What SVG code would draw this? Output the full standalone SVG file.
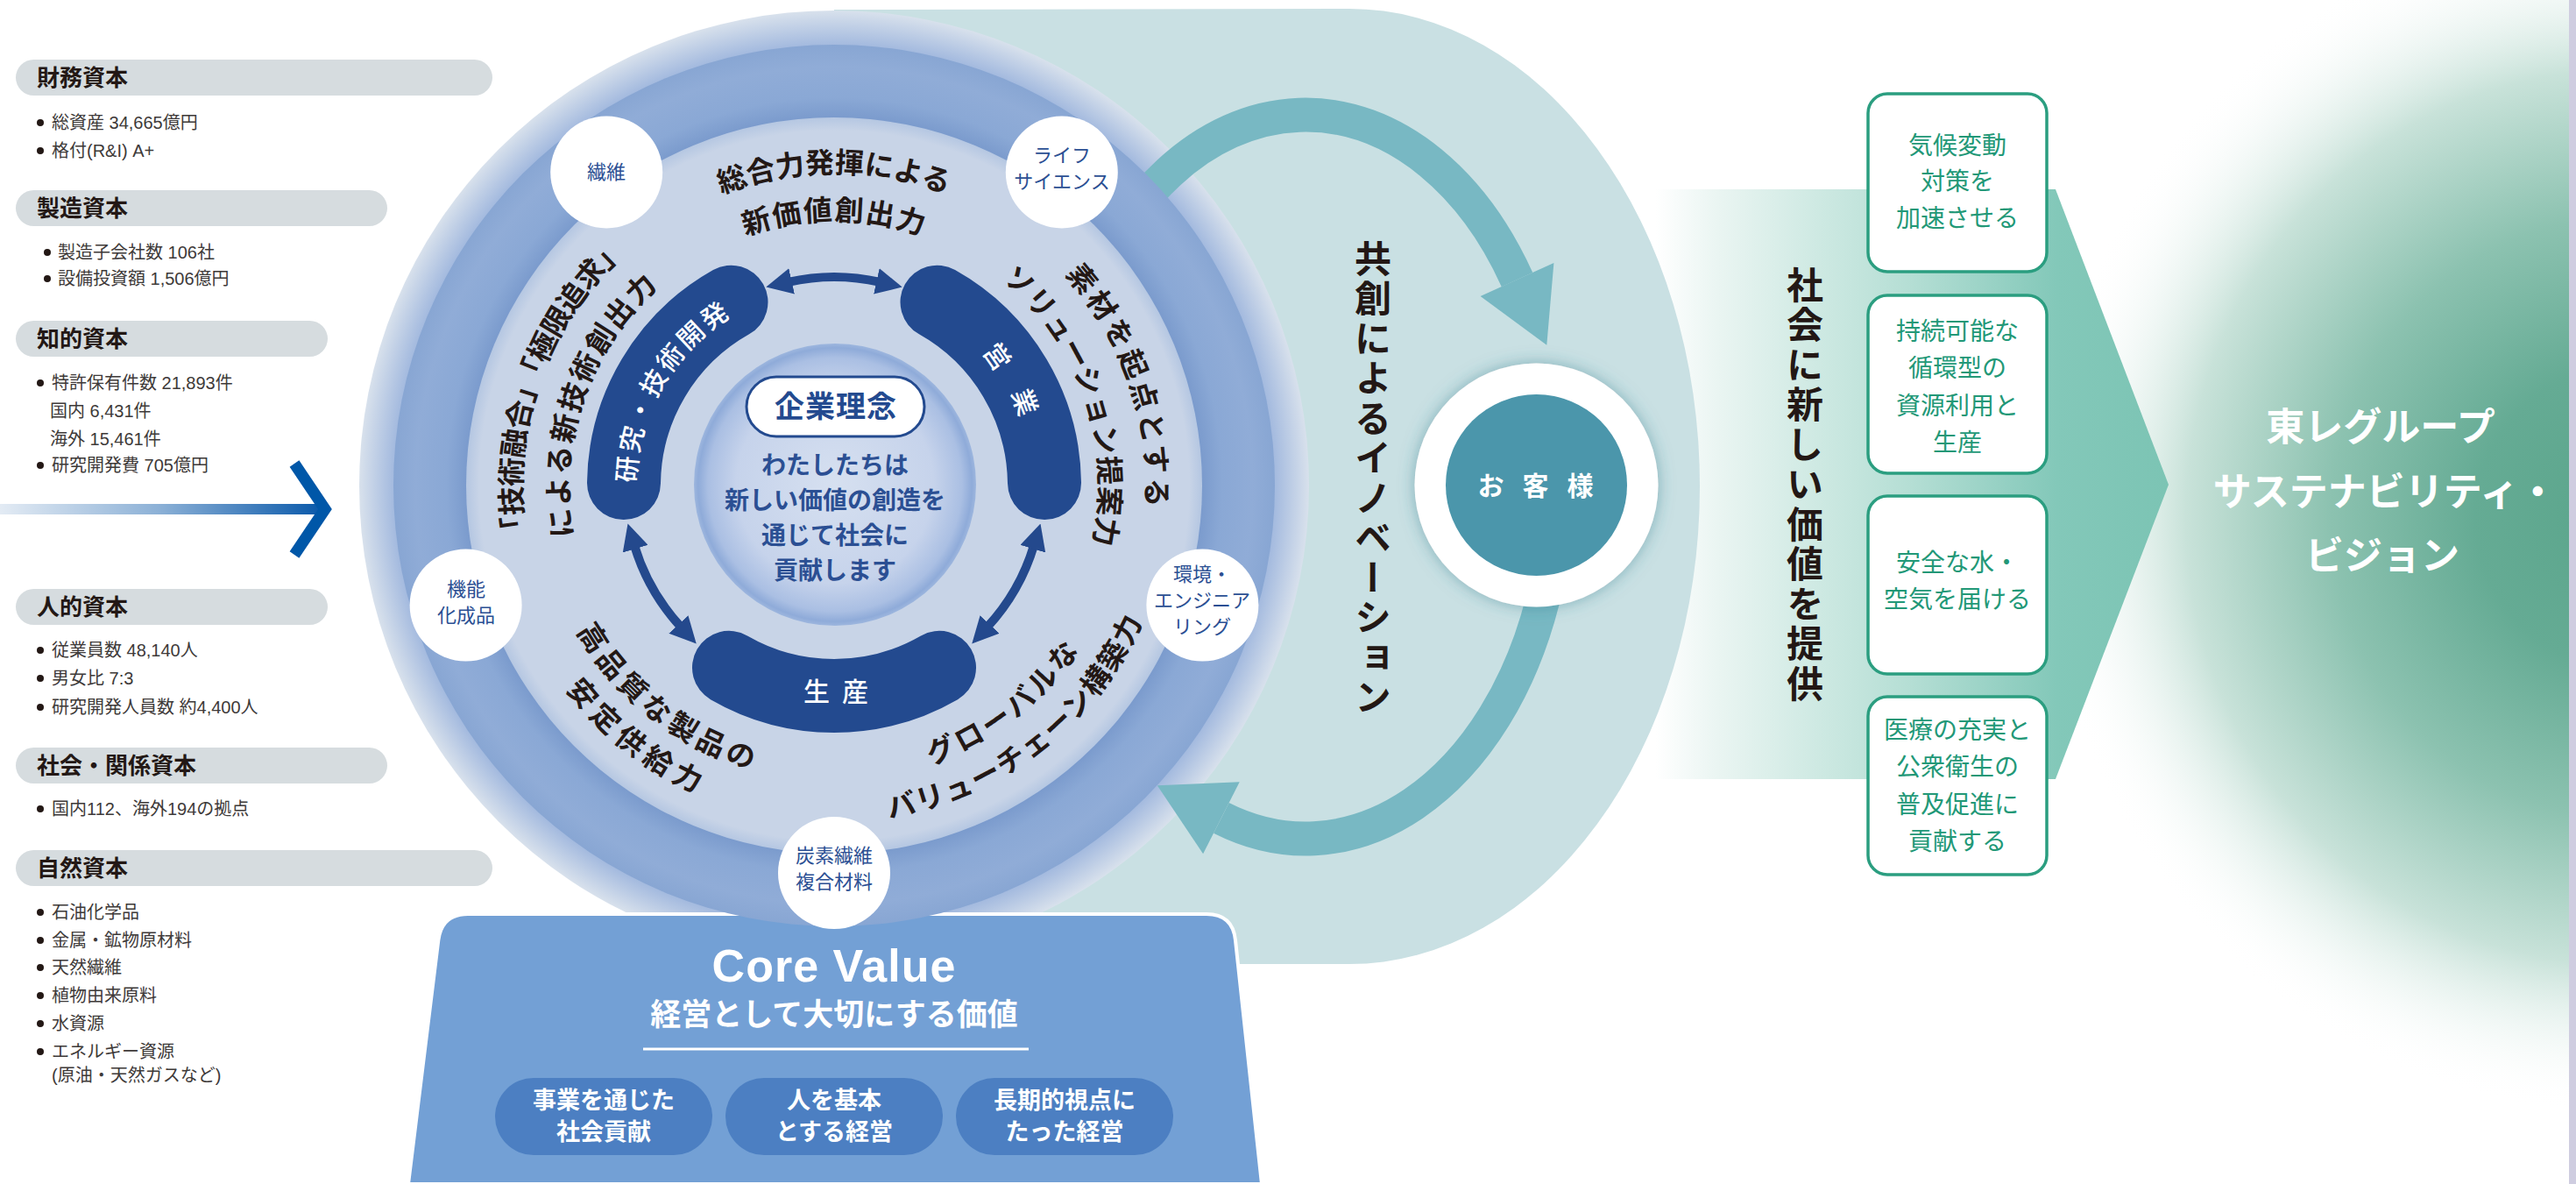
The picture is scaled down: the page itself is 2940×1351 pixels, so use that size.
<svg xmlns="http://www.w3.org/2000/svg" width="2940" height="1351" viewBox="0 0 2940 1351">
<defs>
<style>
.hd{font-family:"Noto Sans CJK JP",sans-serif;font-weight:700;font-size:26px;fill:#231815}
.it{font-family:"Liberation Sans","Noto Sans CJK JP",sans-serif;font-size:20px;fill:#3e3a39}
.bar{fill:#d6dcdf}
.bul{fill:#231815}
.arc{font-family:"Noto Sans CJK JP",sans-serif;font-weight:700;font-size:33px;fill:#231815}
.sc{fill:#ffffff}
.sct{font-family:"Noto Sans CJK JP",sans-serif;font-size:22px;fill:#2b4f93;text-anchor:middle}
.blob{fill:none;stroke:#234a8f;stroke-width:84;stroke-linecap:round}
.bt{font-family:"Noto Sans CJK JP",sans-serif;font-weight:500;font-size:30px;fill:#ffffff}
.dar{fill:none;stroke:#24498d;stroke-width:10;marker-start:url(#ah);marker-end:url(#ah)}
.inn{font-family:"Noto Sans CJK JP",sans-serif;font-weight:700;font-size:28px;fill:#2b4f93;text-anchor:middle}
.box{fill:#ffffff;stroke:#2b9e80;stroke-width:3.5}
.bx{font-family:"Noto Sans CJK JP",sans-serif;font-size:28px;fill:#229877;text-anchor:middle}
.vt{font-family:"Noto Sans CJK JP",sans-serif;font-weight:700;font-size:42px;fill:#231815;writing-mode:vertical-rl;letter-spacing:3.5px}
.pill{fill:#4c7fc2}
.pt{font-family:"Noto Sans CJK JP",sans-serif;font-weight:700;font-size:27px;fill:#ffffff;text-anchor:middle}
.tarc{fill:none;stroke:#78b8c3;stroke-width:39}
.thead{fill:#78b8c3}
.vis{font-family:"Noto Sans CJK JP",sans-serif;font-weight:700;font-size:44px;fill:#ffffff;text-anchor:middle}
</style>
<marker id="ah" viewBox="0 0 30 30" refX="4" refY="15" markerWidth="30" markerHeight="30" markerUnits="userSpaceOnUse" orient="auto-start-reverse">
<path d="M0,0 L30,15 L0,30 Z" fill="#24498d"/>
</marker>
<radialGradient id="gGreen" cx="0.5" cy="0.5" r="0.5">
<stop offset="0" stop-color="#5aa58b"/>
<stop offset="0.25" stop-color="#65ab94"/>
<stop offset="0.5" stop-color="#8cc2b0"/>
<stop offset="0.75" stop-color="#c8e2d9"/>
<stop offset="1" stop-color="#ffffff" stop-opacity="0"/>
</radialGradient>
<linearGradient id="gBand" gradientUnits="userSpaceOnUse" x1="1890" y1="0" x2="2475" y2="0">
<stop offset="0" stop-color="#ffffff"/>
<stop offset="0.12" stop-color="#eaf5f2"/>
<stop offset="0.5" stop-color="#b4ded4"/>
<stop offset="0.78" stop-color="#83c8b9"/>
<stop offset="1" stop-color="#7cc4b4"/>
</linearGradient>
<linearGradient id="gArr" gradientUnits="userSpaceOnUse" x1="0" y1="0" x2="366" y2="0">
<stop offset="0" stop-color="#e3ebf4"/>
<stop offset="0.5" stop-color="#8bb0d6"/>
<stop offset="1" stop-color="#0a59aa"/>
</linearGradient>
<radialGradient id="gHalo" gradientUnits="userSpaceOnUse" cx="952" cy="554" r="542">
<stop offset="0" stop-color="#8eabd6"/>
<stop offset="0.9" stop-color="#8eabd6"/>
<stop offset="0.93" stop-color="#a5bbdf"/>
<stop offset="1" stop-color="#d8e1ec"/>
</radialGradient>
<radialGradient id="gMid" gradientUnits="userSpaceOnUse" cx="952" cy="554" r="503">
<stop offset="0" stop-color="#829fd0"/>
<stop offset="0.82" stop-color="#829fd0"/>
<stop offset="0.835" stop-color="#7b9bcd"/>
<stop offset="0.88" stop-color="#8aa8d5"/>
<stop offset="0.95" stop-color="#90acd7"/>
<stop offset="1" stop-color="#88a6d3"/>
</radialGradient>
<radialGradient id="gBandC" gradientUnits="userSpaceOnUse" cx="952" cy="554" r="420">
<stop offset="0" stop-color="#c8d4e7"/>
<stop offset="0.965" stop-color="#c8d4e7"/>
<stop offset="1" stop-color="#b5c7e2"/>
</radialGradient>
<radialGradient id="gInner" gradientUnits="userSpaceOnUse" cx="953" cy="553" r="161">
<stop offset="0" stop-color="#d6e0f0"/>
<stop offset="0.7" stop-color="#c6d3eb"/>
<stop offset="0.9" stop-color="#aabfe3"/>
<stop offset="0.97" stop-color="#8fabd9"/>
<stop offset="1" stop-color="#9db6de"/>
</radialGradient>
<filter id="fSh" x="-30%" y="-30%" width="160%" height="160%">
<feDropShadow dx="0" dy="0" stdDeviation="9" flood-color="#2f7f8e" flood-opacity="0.5"/>
</filter>
<path id="pTopO" d="M600.9,492.1 A356.5,356.5 0 0 1 1303.1,492.1"/>
<path id="pTopI" d="M654.1,501.5 A302.5,302.5 0 0 1 1249.9,501.5"/>
<path id="pLO" d="M779.2,865.8 A356.5,356.5 0 0 1 1007.8,201.9"/>
<path id="pLI" d="M805.3,818.6 A302.5,302.5 0 0 1 999.3,255.2"/>
<path id="pRO" d="M896.2,201.9 A356.5,356.5 0 0 1 1124.8,865.8"/>
<path id="pRI" d="M904.7,255.2 A302.5,302.5 0 0 1 1098.7,818.6"/>
<path id="pBLI" d="M654.0,395.6 A337.5,337.5 0 0 0 1177.8,804.8"/>
<path id="pBLO" d="M612.5,373.5 A384.5,384.5 0 0 0 1209.3,839.7"/>
<path id="pBRI" d="M726.2,804.8 A337.5,337.5 0 0 0 1250.0,395.6"/>
<path id="pBRO" d="M694.7,839.7 A384.5,384.5 0 0 0 1291.5,373.5"/>
<path id="pRes" d="M756.3,667 A226,226 0 0 1 952,328"/>
<path id="pEig" d="M952,328 A226,226 0 0 1 1147.7,667"/>
</defs>

<rect x="0" y="0" width="2940" height="1351" fill="#ffffff"/>

<g id="vision-bg">
<ellipse cx="2990" cy="590" rx="660" ry="680" fill="url(#gGreen)"/>
<rect x="2932" y="0" width="8" height="1351" fill="#cfcde0"/>
</g>

<g id="value-band">
<polygon points="1890,216 2346,216 2475,553 2346,889 1890,889" fill="url(#gBand)"/>
</g>

<g id="cocreation-area">
<path d="M952,11 L1540,10 A400,545 0 0 1 1540,1100 L952,1100 Z" fill="#c9e0e3"/>
</g>

<g id="circle-halo">
<circle cx="952" cy="554" r="542" fill="url(#gHalo)"/>
</g>

<g id="cycle-arrows">
<path class="tarc" d="M1240.6,337.5 A288,413 0 0 1 1731.5,319.1"/>
<polygon class="thead" points="1773.4,300.1 1765.3,393.8 1689.6,338.1"/>
<path class="tarc" d="M1760.6,685.3 A288,413 0 0 1 1393.9,933.3"/>
<polygon class="thead" points="1414.7,892.3 1320.8,896.2 1373.1,974.3"/>
</g>

<g id="core-value">
<path d="M466,1351 L500.3,1073 Q504,1043 534,1043 L1377,1043 Q1407,1043 1410,1073 L1440,1351 Z" fill="#73a0d5" stroke="#ffffff" stroke-width="4"/>
<text x="952" y="1120" font-family="Liberation Sans, sans-serif" font-weight="700" font-size="52" fill="#ffffff" text-anchor="middle" letter-spacing="1">Core Value</text>
<text x="952" y="1170" font-family="Noto Sans CJK JP, sans-serif" font-weight="700" font-size="35" fill="#ffffff" text-anchor="middle">経営として大切にする価値</text>
<line x1="734" y1="1197" x2="1174" y2="1197" stroke="#ffffff" stroke-width="3"/>
<g id="cv-1"><rect class="pill" x="565" y="1230" width="248" height="88" rx="44"/><text class="pt" x="689" y="1265">事業を通じた</text><text class="pt" x="689" y="1301">社会貢献</text></g>
<g id="cv-2"><rect class="pill" x="828" y="1230" width="248" height="88" rx="44"/><text class="pt" x="952" y="1265">人を基本</text><text class="pt" x="952" y="1301">とする経営</text></g>
<g id="cv-3"><rect class="pill" x="1091" y="1230" width="248" height="88" rx="44"/><text class="pt" x="1215" y="1265">長期的視点に</text><text class="pt" x="1215" y="1301">たった経営</text></g>
</g>

<g id="business-circle">
<circle cx="952" cy="554" r="503" fill="url(#gMid)"/>
<circle cx="952" cy="554" r="420" fill="url(#gBandC)"/>
<text class="arc"><textPath href="#pTopO" startOffset="50%" text-anchor="middle">総合力発揮による</textPath></text>
<text class="arc" letter-spacing="1.5"><textPath href="#pTopI" startOffset="50%" text-anchor="middle">新価値創出力</textPath></text>
<text class="arc" font-size="32" letter-spacing="-1"><textPath href="#pLO" startOffset="50%" text-anchor="middle">「技術融合」「極限追求」</textPath></text>
<text class="arc" font-size="32" letter-spacing="2.3"><textPath href="#pLI" startOffset="50%" text-anchor="middle">による新技術創出力</textPath></text>
<text class="arc" letter-spacing="3.6"><textPath href="#pRO" startOffset="50%" text-anchor="middle">素材を起点とする</textPath></text>
<text class="arc" font-size="32" letter-spacing="0.8"><textPath href="#pRI" startOffset="50%" text-anchor="middle">ソリューション提案力</textPath></text>
<text class="arc" letter-spacing="4.9"><textPath href="#pBLI" startOffset="50%" text-anchor="middle">高品質な製品の</textPath></text>
<text class="arc" letter-spacing="6.9"><textPath href="#pBLO" startOffset="50%" text-anchor="middle">安定供給力</textPath></text>
<text class="arc" letter-spacing="4"><textPath href="#pBRI" startOffset="50%" text-anchor="middle">グローバルな</textPath></text>
<text class="arc" letter-spacing="2"><textPath href="#pBRO" startOffset="50%" text-anchor="middle">バリューチェーン構築力</textPath></text>
</g>

<g id="philosophy">
<circle cx="953" cy="553" r="161" fill="url(#gInner)"/>
<rect x="852" y="430" width="203" height="68" rx="34" fill="#ffffff" stroke="#234a8f" stroke-width="3"/>
<text x="954" y="476" font-family="Noto Sans CJK JP, sans-serif" font-weight="700" font-size="34" fill="#234a8f" text-anchor="middle" letter-spacing="1">企業理念</text>
<text class="inn" x="953" y="541">わたしたちは</text>
<text class="inn" x="953" y="581">新しい価値の創造を</text>
<text class="inn" x="953" y="621">通じて社会に</text>
<text class="inn" x="953" y="661">貢献します</text>
</g>

<g id="rd">
<path class="blob" d="M712,551.1 A240,240 0 0 1 834.5,344.7"/>
<text class="bt" letter-spacing="3"><textPath href="#pRes" startOffset="50%" text-anchor="middle">研究・技術開発</textPath></text>
</g>
<g id="sales">
<path class="blob" d="M1069.5,344.7 A240,240 0 0 1 1192,551.1"/>
<text class="bt" letter-spacing="28"><textPath href="#pEig" startOffset="52%" text-anchor="middle">営業</textPath></text>
</g>
<g id="production">
<path class="blob" d="M1072,761.8 A240,240 0 0 1 832,761.8"/>
<text class="bt" x="961" y="800" font-size="34" letter-spacing="14" text-anchor="middle">生産</text>
</g>

<g id="connectors">
<path class="dar" d="M899.7,321.8 A238,238 0 0 1 1004.3,321.8"/>
<path class="dar" d="M777.1,715.4 A238,238 0 0 1 724,622.4"/>
<path class="dar" d="M1180,622.4 A238,238 0 0 1 1126.9,715.4"/>
</g>

<g id="seg-fiber"><circle class="sc" cx="692.2" cy="196.4" r="64"/><text class="sct" x="692" y="204">繊維</text></g>
<g id="seg-life"><circle class="sc" cx="1211.8" cy="196.4" r="64"/><text class="sct" x="1212" y="185">ライフ</text><text class="sct" x="1212" y="215">サイエンス</text></g>
<g id="seg-chem"><circle class="sc" cx="531.6" cy="690.6" r="64"/><text class="sct" x="532" y="680">機能</text><text class="sct" x="532" y="710">化成品</text></g>
<g id="seg-env"><circle class="sc" cx="1372.4" cy="690.6" r="64"/><text class="sct" x="1372" y="663">環境・</text><text class="sct" x="1372" y="693">エンジニア</text><text class="sct" x="1372" y="723">リング</text></g>
<g id="seg-carbon"><circle class="sc" cx="952" cy="996" r="64"/><text class="sct" x="952" y="984">炭素繊維</text><text class="sct" x="952" y="1014">複合材料</text></g>

<g id="cocreation-label">
<text class="vt" x="1567" y="274">共創によるイノベーション</text>
</g>

<g id="customer">
<circle cx="1753.5" cy="553.5" r="139" fill="#ffffff" filter="url(#fSh)"/>
<circle cx="1753.5" cy="553.5" r="103.5" fill="#4b96ab"/>
<text x="1763" y="565" font-family="Noto Sans CJK JP, sans-serif" font-weight="700" font-size="30" fill="#ffffff" text-anchor="middle" letter-spacing="21">お客様</text>
</g>

<g id="value-label">
<text class="vt" x="2060" y="304">社会に新しい価値を提供</text>
</g>

<g id="goal-1"><rect class="box" x="2132" y="107" width="204" height="203" rx="22"/><text class="bx" x="2234" y="176">気候変動</text><text class="bx" x="2234" y="217">対策を</text><text class="bx" x="2234" y="259">加速させる</text></g>
<g id="goal-2"><rect class="box" x="2132" y="337" width="204" height="203" rx="22"/><text class="bx" x="2234" y="388">持続可能な</text><text class="bx" x="2234" y="430">循環型の</text><text class="bx" x="2234" y="473">資源利用と</text><text class="bx" x="2234" y="515">生産</text></g>
<g id="goal-3"><rect class="box" x="2132" y="566" width="204" height="203" rx="22"/><text class="bx" x="2234" y="652">安全な水・</text><text class="bx" x="2234" y="694">空気を届ける</text></g>
<g id="goal-4"><rect class="box" x="2132" y="795" width="204" height="203" rx="22"/><text class="bx" x="2234" y="843">医療の充実と</text><text class="bx" x="2234" y="885">公衆衛生の</text><text class="bx" x="2234" y="928">普及促進に</text><text class="bx" x="2234" y="970">貢献する</text></g>

<g id="vision">
<text class="vis" x="2717" y="503">東レグループ</text>
<text class="vis" x="2722" y="577">サステナビリティ・</text>
<text class="vis" x="2719" y="650">ビジョン</text>
</g>

<g id="cap-financial">
<rect class="bar" x="18" y="68" width="544" height="41" rx="20.5"/>
<text class="hd" x="42" y="98">財務資本</text>
<circle class="bul" cx="46" cy="140" r="4"/><text class="it" x="59" y="147">総資産 34,665億円</text>
<circle class="bul" cx="46" cy="172" r="4"/><text class="it" x="59" y="179">格付(R&amp;I) A+</text>
</g>
<g id="cap-manufactured">
<rect class="bar" x="18" y="217" width="424" height="41" rx="20.5"/>
<text class="hd" x="42" y="247">製造資本</text>
<circle class="bul" cx="54" cy="288" r="4"/><text class="it" x="66" y="295">製造子会社数 106社</text>
<circle class="bul" cx="54" cy="318" r="4"/><text class="it" x="66" y="325">設備投資額 1,506億円</text>
</g>
<g id="cap-intellectual">
<rect class="bar" x="18" y="366" width="356" height="41" rx="20.5"/>
<text class="hd" x="42" y="396">知的資本</text>
<circle class="bul" cx="46" cy="437" r="4"/><text class="it" x="59" y="444">特許保有件数 21,893件</text>
<text class="it" x="57" y="476">国内 6,431件</text>
<text class="it" x="57" y="508">海外 15,461件</text>
<circle class="bul" cx="46" cy="531" r="4"/><text class="it" x="59" y="538">研究開発費 705億円</text>
</g>
<g id="cap-human">
<rect class="bar" x="18" y="672" width="356" height="41" rx="20.5"/>
<text class="hd" x="42" y="702">人的資本</text>
<circle class="bul" cx="46" cy="742" r="4"/><text class="it" x="59" y="749">従業員数 48,140人</text>
<circle class="bul" cx="46" cy="774" r="4"/><text class="it" x="59" y="781">男女比 7:3</text>
<circle class="bul" cx="46" cy="807" r="4"/><text class="it" x="59" y="814">研究開発人員数 約4,400人</text>
</g>
<g id="cap-social">
<rect class="bar" x="18" y="853" width="424" height="41" rx="20.5"/>
<text class="hd" x="42" y="883">社会・関係資本</text>
<circle class="bul" cx="46" cy="923" r="4"/><text class="it" x="59" y="930">国内112、海外194の拠点</text>
</g>
<g id="cap-natural">
<rect class="bar" x="18" y="970" width="544" height="41" rx="20.5"/>
<text class="hd" x="42" y="1000">自然資本</text>
<circle class="bul" cx="46" cy="1041" r="4"/><text class="it" x="59" y="1048">石油化学品</text>
<circle class="bul" cx="46" cy="1073" r="4"/><text class="it" x="59" y="1080">金属・鉱物原材料</text>
<circle class="bul" cx="46" cy="1104" r="4"/><text class="it" x="59" y="1111">天然繊維</text>
<circle class="bul" cx="46" cy="1136" r="4"/><text class="it" x="59" y="1143">植物由来原料</text>
<circle class="bul" cx="46" cy="1168" r="4"/><text class="it" x="59" y="1175">水資源</text>
<circle class="bul" cx="46" cy="1200" r="4"/><text class="it" x="59" y="1207">エネルギー資源</text>
<text class="it" x="59" y="1234" font-size="17">(原油・天然ガスなど)</text>
</g>

<g id="input-arrow">
<rect x="0" y="575" width="364" height="12" fill="url(#gArr)"/>
<polyline points="336,529 371,581 336,633" fill="none" stroke="#0057a8" stroke-width="13" stroke-linejoin="miter"/>
</g>
</svg>
